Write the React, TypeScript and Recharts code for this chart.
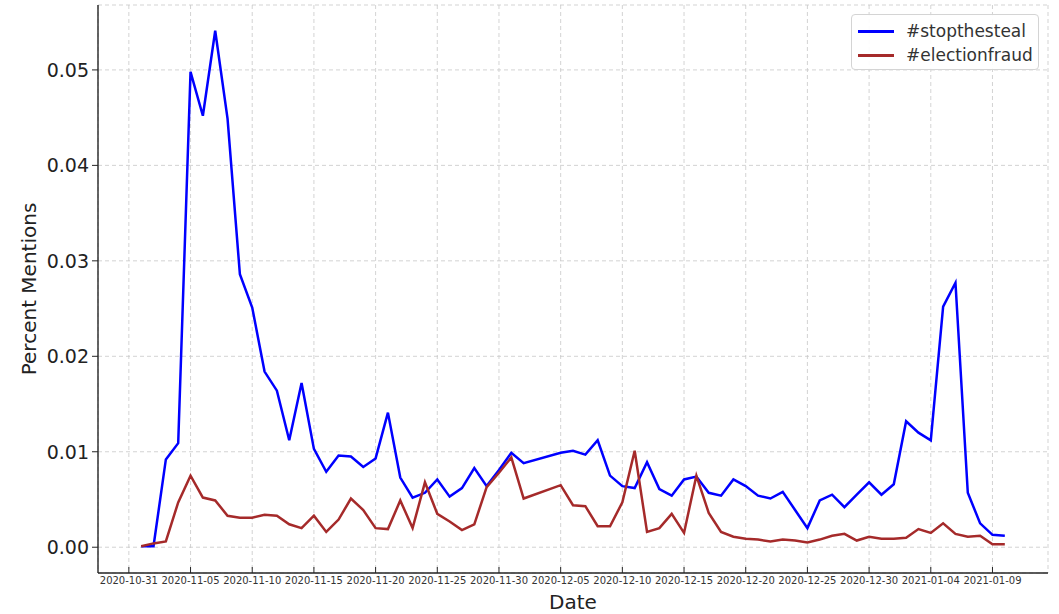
import React from "react";
import {
  LineChart,
  Line,
  XAxis,
  YAxis,
  CartesianGrid,
  Legend,
} from "recharts";

const dates = [
  "2020-11-01", "2020-11-02", "2020-11-03", "2020-11-04", "2020-11-05",
  "2020-11-06", "2020-11-07", "2020-11-08", "2020-11-09", "2020-11-10",
  "2020-11-11", "2020-11-12", "2020-11-13", "2020-11-14", "2020-11-15",
  "2020-11-16", "2020-11-17", "2020-11-18", "2020-11-19", "2020-11-20",
  "2020-11-21", "2020-11-22", "2020-11-23", "2020-11-24", "2020-11-25",
  "2020-11-26", "2020-11-27", "2020-11-28", "2020-11-29", "2020-11-30",
  "2020-12-01", "2020-12-02", "2020-12-05", "2020-12-06", "2020-12-07",
  "2020-12-08", "2020-12-09", "2020-12-10", "2020-12-11", "2020-12-12",
  "2020-12-13", "2020-12-14", "2020-12-15", "2020-12-16", "2020-12-17",
  "2020-12-18", "2020-12-19", "2020-12-20", "2020-12-21", "2020-12-22",
  "2020-12-23", "2020-12-24", "2020-12-25", "2020-12-26", "2020-12-27",
  "2020-12-28", "2020-12-29", "2020-12-30", "2020-12-31", "2021-01-01",
  "2021-01-02", "2021-01-03", "2021-01-04", "2021-01-05", "2021-01-06",
  "2021-01-07", "2021-01-08", "2021-01-09", "2021-01-10",
];

const stopTheSteal = [
  0.0001, 0.0001, 0.0092, 0.0109, 0.0498,
  0.0452, 0.0541, 0.0449, 0.0286, 0.0251,
  0.0184, 0.0164, 0.0112, 0.0172, 0.0103,
  0.0079, 0.0096, 0.0095, 0.0084, 0.0093,
  0.0141, 0.0073, 0.0052, 0.0057, 0.0071,
  0.0053, 0.0062, 0.0083, 0.0064, 0.0081,
  0.0099, 0.0088, 0.0099, 0.0101, 0.0097,
  0.0112, 0.0075, 0.0064, 0.0062, 0.0089,
  0.0061, 0.0054, 0.0071, 0.0074, 0.0057,
  0.0054, 0.0071, 0.0064, 0.0054, 0.0051,
  0.0058, 0.0039, 0.002, 0.0049, 0.0055,
  0.0042, 0.0055, 0.0068, 0.0055, 0.0066,
  0.0132, 0.012, 0.0112, 0.0252, 0.0277,
  0.0057, 0.0025, 0.0013, 0.0012,
];

const electionFraud = [
  0.0001, 0.0004, 0.0006, 0.0047, 0.0075,
  0.0052, 0.0049, 0.0033, 0.0031, 0.0031,
  0.0034, 0.0033, 0.0024, 0.002, 0.0033,
  0.0016, 0.0029, 0.0051, 0.0039, 0.002,
  0.0019, 0.0049, 0.002, 0.0068, 0.0035,
  0.0027, 0.0018, 0.0024, 0.0063, 0.0078,
  0.0094, 0.0051, 0.0065, 0.0044, 0.0043,
  0.0022, 0.0022, 0.0047, 0.0101, 0.0016,
  0.002, 0.0035, 0.0015, 0.0075, 0.0036,
  0.0016, 0.0011, 0.0009, 0.0008, 0.0006,
  0.0008, 0.0007, 0.0005, 0.0008, 0.0012,
  0.0014, 0.0007, 0.0011, 0.0009, 0.0009,
  0.001, 0.0019, 0.0015, 0.0025, 0.0014,
  0.0011, 0.0012, 0.0003, 0.0003,
];

const xTickLabels = [
  "2020-10-31", "2020-11-05", "2020-11-10", "2020-11-15", "2020-11-20",
  "2020-11-25", "2020-11-30", "2020-12-05", "2020-12-10", "2020-12-15",
  "2020-12-20", "2020-12-25", "2020-12-30", "2021-01-04", "2021-01-09",
];

const yTicks = [0, 0.01, 0.02, 0.03, 0.04, 0.05];

const ORIGIN = Date.parse("2020-10-31");
const dayOffset = (d: string) => Math.round((Date.parse(d) - ORIGIN) / 86400000);

const chartData = dates.map((d, i) => ({
  day: dayOffset(d),
  stopthesteal: stopTheSteal[i],
  electionfraud: electionFraud[i],
}));

const xTicks = xTickLabels.map(dayOffset);
const labelByDay: Record<number, string> = {};
xTickLabels.forEach((l) => {
  labelByDay[dayOffset(l)] = l;
});

const FONT = "DejaVu Sans, sans-serif";
const AXIS = "#262626";

const SERIES = [
  { key: "stopthesteal", name: "#stopthesteal", color: "#0000ff" },
  { key: "electionfraud", name: "#electionfraud", color: "#a52a2a" },
];

function DateTick(props: any) {
  const { x, y, payload } = props;
  // tickSize is 0, tickMargin 4 -> axis line sits 4px above y
  const axisY = y - 4;
  return (
    <g>
      <line x1={x} x2={x} y1={axisY - 6} y2={axisY} stroke={AXIS} strokeWidth={1} />
      <text
        x={x}
        y={y}
        dy="0.71em"
        textAnchor="middle"
        fontSize={10}
        fontFamily={FONT}
        fill="#333"
      >
        {labelByDay[payload.value] ?? ""}
      </text>
    </g>
  );
}

function LegendBox() {
  return (
    <div
      style={{
        border: "1px solid #d4d4d4",
        borderRadius: 4,
        background: "rgba(255,255,255,0.9)",
        boxSizing: "border-box",
        width: 188,
        height: 56,
        padding: "4px 0 0 6px",
        fontFamily: FONT,
        fontSize: 17,
        color: "#333",
      }}
    >
      {SERIES.map((s) => (
        <div
          key={s.key}
          style={{ display: "flex", alignItems: "center", height: 24 }}
        >
          <span
            style={{
              display: "inline-block",
              width: 36,
              height: 3,
              background: s.color,
              marginRight: 12,
            }}
          />
          <span>{s.name}</span>
        </div>
      ))}
    </div>
  );
}

export default function App() {
  return (
    <div style={{ position: "absolute", left: 0, top: 0, background: "#fff" }}>
      <LineChart
        width={1059}
        height={614}
        data={chartData}
        margin={{ top: 5, right: 11, bottom: 0, left: 0 }}
      >
        <CartesianGrid stroke="#c8c8c8" strokeDasharray="4 3" strokeWidth={0.8} />
        <XAxis
          dataKey="day"
          type="number"
          domain={[-2.5, 74.5]}
          ticks={xTicks}
          allowDataOverflow
          height={41}
          tickSize={0}
          tickMargin={4}
          tickLine={false}
          tick={<DateTick />}
          axisLine={{ stroke: AXIS, strokeWidth: 1.4 }}
          interval={0}
          label={{
            value: "Date",
            position: "insideBottom",
            offset: 5,
            fontSize: 20,
            fontFamily: FONT,
            fill: "#222",
          }}
        />
        <YAxis
          type="number"
          domain={[-0.0027, 0.0568]}
          ticks={yTicks}
          allowDataOverflow
          width={98}
          tickSize={6}
          tickMargin={3}
          tickLine={{ stroke: AXIS, strokeWidth: 1 }}
          axisLine={{ stroke: AXIS, strokeWidth: 1.4 }}
          tickFormatter={(v: number) => v.toFixed(2)}
          tick={{ fontSize: 19, fontFamily: FONT, fill: "#222" }}
          interval={0}
          label={{
            content: ({ viewBox }: any) => {
              const cx = 29;
              const cy = viewBox.y + viewBox.height / 2;
              return (
                <text
                  x={cx}
                  y={cy}
                  transform={`rotate(-90, ${cx}, ${cy})`}
                  textAnchor="middle"
                  dominantBaseline="central"
                  fontSize={20}
                  fontFamily={FONT}
                  fill="#222"
                >
                  Percent Mentions
                </text>
              );
            },
          }}
        />
        {SERIES.map((s) => (
          <Line
            key={s.key}
            type="linear"
            dataKey={s.key}
            name={s.name}
            stroke={s.color}
            strokeWidth={2.5}
            dot={false}
            activeDot={false}
            isAnimationActive={false}
          />
        ))}
        <Legend
          layout="horizontal"
          verticalAlign="middle"
          align="center"
          content={() => <LegendBox />}
          wrapperStyle={{ top: 14, left: 851, width: 188, height: 56 }}
        />
      </LineChart>
    </div>
  );
}
